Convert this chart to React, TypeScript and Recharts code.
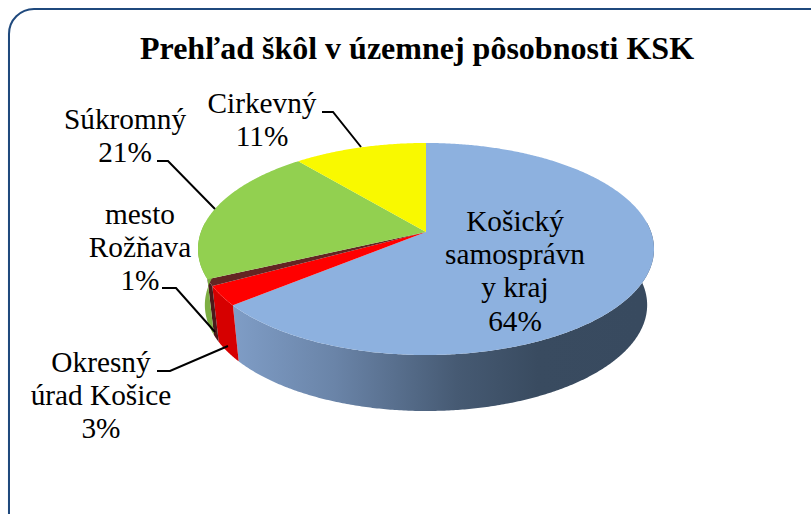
import React from "react"
import { Pie, PieChart } from "recharts"

const categories = ["Košický samosprávny kraj", "Okresný úrad Košice", "mesto Rožňava", "Súkromný", "Cirkevný"]
const values = [64, 3, 1, 21, 11]
const topColors = ["#8db1df", "#ff0000", "#632523", "#92d050", "#f9f900"]
const wallColors = ["url(#blueWall)", "#d60000", "#4a1a1a", "#7dae43", "#d8d800"]
const labelRows = [
  ["Košický", "samosprávn", "y kraj"],
  ["Okresný", "úrad Košice"],
  ["mesto", "Rožňava"],
  ["Súkromný"],
  ["Cirkevný"],
]
const labelCenters = [515, 101, 140, 125, 262]
const labelTops = [231, 372, 224, 129, 113]
const leaderLines = [
  "",
  "157,371 170,371 228,346",
  "162,288 176,288 215,332",
  "157,161 168,161 215,209",
  "322,112 333,112 361,147",
]

const data = categories.map((name, i) => ({ name, value: values[i], fill: topColors[i], wall: wallColors[i] }))

// tilted disc: the top face is an ellipse seen in perspective, so the apex sits behind its centre
const TILT = 0.465
const SKEW = -0.16
const ELLIPSE_DROP = 17
const WALL_DROP = 73
const WALL_SHRINK = 0.97
const RAD = Math.PI / 180

function project(cx: number, cy: number, r: number, deg: number, drop = 0, shrink = 1) {
  const u = Math.cos(deg * RAD)
  const v = -Math.sin(deg * RAD)
  const d = 1 + SKEW * v
  const x = (r * shrink * Math.sqrt(1 - SKEW * SKEW) * u) / d
  const y = (r * TILT * (v + SKEW)) / d
  return [cx + x, cy + ELLIPSE_DROP + y + drop]
}

function angles(start: number, end: number) {
  const steps = Math.max(2, Math.ceil(Math.abs(end - start) * 2))
  return Array.from({ length: steps + 1 }, (_, i) => start + ((end - start) * i) / steps)
}

const toPath = (pts: number[][]) => "M" + pts.map((p) => `${p[0].toFixed(2)},${p[1].toFixed(2)}`).join("L") + "Z"

function Slice3D(props: any) {
  const { cx, cy, outerRadius, startAngle, endAngle, fill, wall } = props
  const list = angles(startAngle, endAngle)
  const rim = list.map((a) => project(cx, cy, outerRadius, a))
  // only the front half of the rim shows a wall
  const front = list.filter((a) => Math.sin(a * RAD) < 0.1)
  const wallPts = [
    ...front.map((a) => project(cx, cy, outerRadius, a)),
    ...front
      .slice()
      .reverse()
      .map((a) => project(cx, cy, outerRadius, a, WALL_DROP - ELLIPSE_DROP, WALL_SHRINK)),
  ]
  return (
    <g>
      {wallPts.length > 2 && <path d={toPath(wallPts)} fill={wall} stroke="none" />}
      <path d={toPath([[cx, cy], ...rim])} fill={fill} stroke="none" />
    </g>
  )
}

function SliceLabel(props: any) {
  const { index, percent } = props
  const rows = [...labelRows[index], `${Math.round(percent * 100)}%`]
  return (
    <g>
      {leaderLines[index] && <polyline points={leaderLines[index]} fill="none" stroke="#000" strokeWidth={2} />}
      <text x={labelCenters[index]} y={labelTops[index]} textAnchor="middle" fontSize={29.3} fill="#000" fontFamily="'Liberation Serif', serif">
        {rows.map((row, i) => (
          <tspan key={i} x={labelCenters[index]} dy={i === 0 ? 0 : 33.2}>
            {row}
          </tspan>
        ))}
      </text>
    </g>
  )
}

export default function App() {
  return (
    <div style={{ position: "fixed", left: 0, top: 0, width: 811, height: 514, overflow: "hidden", background: "#fff" }}>
      <div
        style={{
          position: "absolute",
          left: 8,
          top: 8,
          width: 840,
          height: 540,
          boxSizing: "border-box",
          border: "2px solid #1f497d",
          borderRadius: 26,
          boxShadow: "0 1px 1px #b8c8dc",
        }}
      />
      <div style={{ position: "absolute", left: 0, top: 0 }}>
        <PieChart width={811} height={514} margin={{ top: 0, right: 0, bottom: 0, left: 0 }}>
          <defs>
            <linearGradient id="blueWall" gradientUnits="userSpaceOnUse" x1={233} y1={0} x2={640} y2={0}>
              <stop offset="0" stopColor="#7f9dc6" />
              <stop offset="0.25" stopColor="#6a84a8" />
              <stop offset="0.55" stopColor="#465a73" />
              <stop offset="0.75" stopColor="#394b60" />
              <stop offset="1" stopColor="#384a5f" />
            </linearGradient>
          </defs>
          <text x={417} y={59} textAnchor="middle" fontSize={32} fontWeight="bold" fill="#000" fontFamily="'Liberation Serif', serif">
            Prehľad škôl v územnej pôsobnosti KSK
          </text>
          <Pie
            data={data}
            dataKey="value"
            nameKey="name"
            cx={426}
            cy={232}
            innerRadius={0}
            outerRadius={228}
            startAngle={90}
            endAngle={-270}
            stroke="none"
            shape={Slice3D}
            label={SliceLabel}
            labelLine={false}
            isAnimationActive={false}
          />
        </PieChart>
      </div>
    </div>
  )
}
